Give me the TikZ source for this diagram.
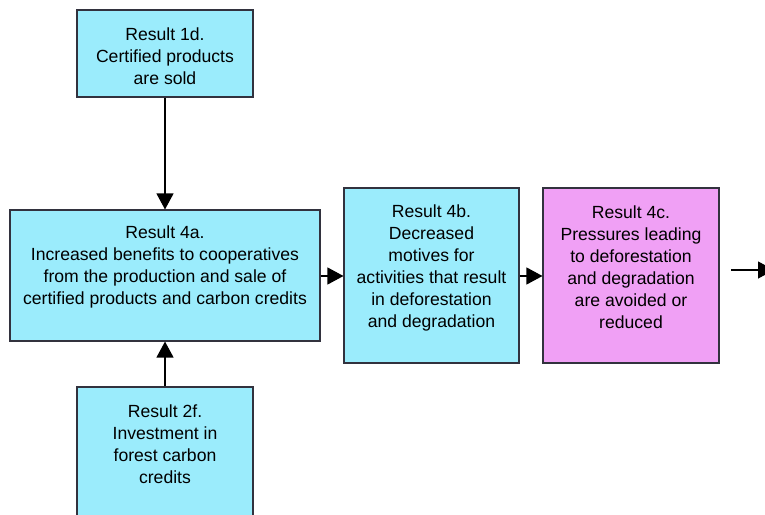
\documentclass[tikz,border=0pt]{standalone}
\usepackage{fontspec}
\setmainfont{Liberation Sans}
\usetikzlibrary{arrows.meta}
\definecolor{boxcyan}{RGB}{155,236,252}
\definecolor{boxpink}{RGB}{240,160,245}
\definecolor{edge}{RGB}{50,50,62}
\begin{document}
\begin{tikzpicture}[x=1pt,y=-1pt,
  resbox/.style={draw=edge, line width=1.1pt, fill=boxcyan, rectangle, inner sep=0pt},
  restext/.style={align=center, inner sep=0pt, font=\fontsize{17.6}{22}\selectfont},
  flow/.style={line width=1.2pt, -{Triangle[length=16pt,width=17pt]}}]
  \clip (0,0) rectangle (765,514);
  \useasboundingbox (0,0) rectangle (765,514);
  \fill[white] (0,0) rectangle (765,514);

  % boxes
  \node[resbox, minimum width=176pt, minimum height=87pt] (r1d) at (165,53.5) {};
  \node[resbox, minimum width=310pt, minimum height=131pt] (r4a) at (165,275.5) {};
  \node[resbox, minimum width=175pt, minimum height=175pt] (r4b) at (431.5,275.5) {};
  \node[resbox, fill=boxpink, minimum width=176pt, minimum height=175pt] (r4c) at (631,275.5) {};
  \node[resbox, minimum width=176pt, minimum height=140pt] (r2f) at (165,457) {};

  % texts
  \node[restext] (t1d) at (165,56) {Result 1d.\\Certified products\\are sold};
  \node[restext] (t4a) at (165,267) {Result 4a.\\Increased benefits to cooperatives\\from the production and sale of\\certified products and carbon credits};
  \node[restext] (t4b) at (431.5,267.5) {Result 4b.\\Decreased\\motives for\\activities that result\\in deforestation\\and degradation};
  \node[restext] (t4c) at (631,267.5) {Result 4c.\\Pressures leading\\to deforestation\\and degradation\\are avoided or\\reduced};
  \node[restext] (t2f) at (165,444.5) {Result 2f.\\Investment in\\forest carbon\\credits};

  % connectors
  \coordinate (out) at (774,270);
  \coordinate (outstart) at (731,270);
  \draw[flow] (r1d.south) -- (r4a.north);
  \draw[flow] (r2f.north) -- (r4a.south);
  \draw[flow] (r4a.east |- 0,276) -- (r4b.west |- 0,276);
  \draw[flow] (r4b.east |- 0,276) -- (r4c.west |- 0,276);
  \draw[flow] (outstart) -- (out);
\end{tikzpicture}
\end{document}
